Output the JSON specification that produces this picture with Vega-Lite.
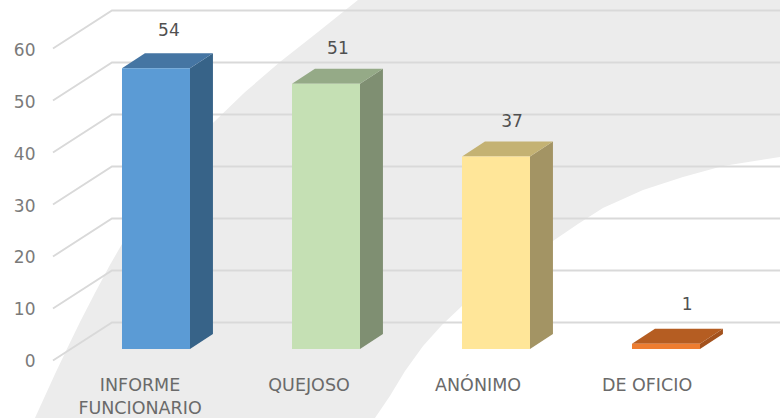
{"$schema":"https://vega.github.io/schema/vega-lite/v6.json","width":780,"height":418,"padding":0,"autosize":{"type":"none"},"background":"white","config":{"view":{"stroke":null}},
"datasets":{
"bars":[{"cat":"INFORME FUNCIONARIO","i":0,"left":-0.2,"right":0.2,"value":54,"zero":0,"labelX":0.076,"labelAt":61.5},{"cat":"QUEJOSO","i":1,"left":0.8,"right":1.2,"value":51,"zero":0,"labelX":1.07,"labelAt":58},{"cat":"ANÓNIMO","i":2,"left":1.8,"right":2.2,"value":37,"zero":0,"labelX":2.094,"labelAt":44},{"cat":"DE OFICIO","i":3,"left":2.8,"right":3.2,"value":1,"zero":0,"labelX":3.124,"labelAt":8.8}],
"faces":[
{"face":"INFORME side","x":0.2,"lo":0,"hi":54},{"face":"INFORME side","x":0.335,"lo":2.9,"hi":56.9},
{"face":"INFORME top","x":-0.2,"lo":54,"hi":54},{"face":"INFORME top","x":-0.065,"lo":54,"hi":56.9},{"face":"INFORME top","x":0.2,"lo":54,"hi":56.9},{"face":"INFORME top","x":0.335,"lo":56.9,"hi":56.9},
{"face":"QUEJOSO side","x":1.2,"lo":0,"hi":51},{"face":"QUEJOSO side","x":1.335,"lo":2.9,"hi":53.9},
{"face":"QUEJOSO top","x":0.8,"lo":51,"hi":51},{"face":"QUEJOSO top","x":0.935,"lo":51,"hi":53.9},{"face":"QUEJOSO top","x":1.2,"lo":51,"hi":53.9},{"face":"QUEJOSO top","x":1.335,"lo":53.9,"hi":53.9},
{"face":"ANONIMO side","x":2.2,"lo":0,"hi":37},{"face":"ANONIMO side","x":2.335,"lo":2.9,"hi":39.9},
{"face":"ANONIMO top","x":1.8,"lo":37,"hi":37},{"face":"ANONIMO top","x":1.935,"lo":37,"hi":39.9},{"face":"ANONIMO top","x":2.2,"lo":37,"hi":39.9},{"face":"ANONIMO top","x":2.335,"lo":39.9,"hi":39.9},
{"face":"OFICIO side","x":3.2,"lo":0,"hi":1},{"face":"OFICIO side","x":3.335,"lo":2.9,"hi":3.9},
{"face":"OFICIO top","x":2.8,"lo":1,"hi":1},{"face":"OFICIO top","x":2.935,"lo":1,"hi":3.9},{"face":"OFICIO top","x":3.2,"lo":1,"hi":3.9},{"face":"OFICIO top","x":3.335,"lo":3.9,"hi":3.9}],
"swoosh":[{"x":-0.712,"lo":-13.27,"hi":-13.27},{"x":-0.653,"lo":-13.27,"hi":-9.04},{"x":-0.594,"lo":-13.27,"hi":-4.81},{"x":-0.524,"lo":-13.27,"hi":0},{"x":-0.447,"lo":-13.27,"hi":5.19},{"x":-0.359,"lo":-13.27,"hi":10.77},{"x":-0.271,"lo":-13.27,"hi":16.15},{"x":-0.2,"lo":-13.27,"hi":20.19},{"x":-0.076,"lo":-13.27,"hi":26.15},{"x":0.053,"lo":-13.27,"hi":32.12},{"x":0.188,"lo":-13.27,"hi":37.69},{"x":0.335,"lo":-13.27,"hi":43.46},{"x":0.524,"lo":-13.27,"hi":49.42},{"x":0.729,"lo":-13.27,"hi":55.19},{"x":0.953,"lo":-13.27,"hi":60.96},{"x":1.188,"lo":-13.27,"hi":67.12},{"x":1.288,"lo":-13.27,"hi":67.12},{"x":1.376,"lo":-9.04,"hi":67.12},{"x":1.465,"lo":-4.23,"hi":67.12},{"x":1.571,"lo":0.58,"hi":67.12},{"x":1.682,"lo":4.62,"hi":67.12},{"x":1.8,"lo":8.27,"hi":67.12},{"x":1.935,"lo":11.73,"hi":67.12},{"x":2.082,"lo":15.0,"hi":67.12},{"x":2.2,"lo":17.88,"hi":67.12},{"x":2.335,"lo":20.77,"hi":67.12},{"x":2.482,"lo":24.04,"hi":67.12},{"x":2.629,"lo":27.12,"hi":67.12},{"x":2.865,"lo":30.58,"hi":67.12},{"x":3.1,"lo":33.08,"hi":67.12},{"x":3.335,"lo":35.19,"hi":67.12},{"x":3.671,"lo":36.92,"hi":67.12}],
"grid":[
{"t":0,"x":-0.606,"v":0},{"t":0,"x":-0.259,"v":7.3},{"t":0,"x":3.671,"v":7.3},
{"t":10,"x":-0.606,"v":10},{"t":10,"x":-0.259,"v":17.3},{"t":10,"x":3.671,"v":17.3},
{"t":20,"x":-0.606,"v":20},{"t":20,"x":-0.259,"v":27.3},{"t":20,"x":3.671,"v":27.3},
{"t":30,"x":-0.606,"v":30},{"t":30,"x":-0.259,"v":37.3},{"t":30,"x":3.671,"v":37.3},
{"t":40,"x":-0.606,"v":40},{"t":40,"x":-0.259,"v":47.3},{"t":40,"x":3.671,"v":47.3},
{"t":50,"x":-0.606,"v":50},{"t":50,"x":-0.259,"v":57.3},{"t":50,"x":3.671,"v":57.3},
{"t":60,"x":-0.606,"v":60},{"t":60,"x":-0.259,"v":67.3},{"t":60,"x":3.671,"v":67.3}]},
"resolve":{"scale":{"x":"independent","y":"independent","color":"independent"},"axis":{"x":"independent","y":"independent"}},
"layer":[
{"data":{"name":"swoosh"},"mark":{"type":"area","color":"#ececec"},"encoding":{"x":{"field":"x","type":"quantitative","axis":null,"scale":{"domain":[-0.9176,3.6706],"nice":false,"zero":false}},"y":{"field":"lo","type":"quantitative","axis":null,"stack":null,"scale":{"domain":[-13.27,67.12],"nice":false,"zero":false}},"y2":{"field":"hi"}}},
{"data":{"name":"grid"},"mark":{"type":"line","color":"#d9d9d9","strokeWidth":1.9},"encoding":{"detail":{"field":"t"},"x":{"field":"x","type":"quantitative","axis":null,"scale":{"domain":[-0.9176,3.6706],"nice":false,"zero":false}},"y":{"field":"v","type":"quantitative","stack":null,"scale":{"domain":[-11.06,69.33],"nice":false,"zero":false},"axis":{"values":[0,10,20,30,40,50,60],"grid":false,"domain":false,"ticks":false,"title":null,"zindex":1,"labelPadding":-35,"labelAlign":"right","labelOffset":1.5,"labelFont":"DejaVu Sans","labelFontSize":17,"labelColor":"#7a7a7a"}}}},
{"data":{"name":"faces"},"mark":{"type":"area"},"encoding":{"color":{"field":"face","type":"nominal","legend":null,"scale":{"domain":["INFORME side","INFORME top","QUEJOSO side","QUEJOSO top","ANONIMO side","ANONIMO top","OFICIO side","OFICIO top"],"range":["#376388","#4575a3","#7f8f72","#95aa87","#a39464","#c4b273","#a3521e","#b55d22"]}},"x":{"field":"x","type":"quantitative","axis":null,"scale":{"domain":[-0.9176,3.6706],"nice":false,"zero":false}},"y":{"field":"lo","type":"quantitative","axis":null,"stack":null,"scale":{"domain":[-13.27,67.12],"nice":false,"zero":false}},"y2":{"field":"hi"}}},
{"data":{"name":"bars"},"mark":{"type":"bar"},"encoding":{"color":{"field":"cat","type":"nominal","legend":null,"scale":{"domain":["INFORME FUNCIONARIO","QUEJOSO","ANÓNIMO","DE OFICIO"],"range":["#5b9bd5","#c5e0b4","#ffe699","#ed7d31"]}},"x":{"field":"left","type":"quantitative","axis":null,"scale":{"domain":[-0.9176,3.6706],"nice":false,"zero":false}},"x2":{"field":"right"},"y":{"field":"value","type":"quantitative","axis":null,"stack":null,"scale":{"domain":[-13.27,67.12],"nice":false,"zero":false}},"y2":{"field":"zero"}}},
{"data":{"name":"bars"},"mark":{"type":"text","font":"DejaVu Sans","fontSize":17,"color":"#505050","baseline":"middle","align":"center","dy":1.5},"encoding":{"text":{"field":"value","type":"quantitative"},"x":{"field":"labelX","type":"quantitative","axis":null,"scale":{"domain":[-0.9176,3.6706],"nice":false,"zero":false}},"y":{"field":"labelAt","type":"quantitative","axis":null,"scale":{"domain":[-13.27,67.12],"nice":false,"zero":false}}}},
{"data":{"name":"bars"},"mark":{"type":"tick","opacity":0},"encoding":{"x":{"field":"cat","type":"nominal","sort":null,"scale":{"domain":["INFORME FUNCIONARIO","QUEJOSO","ANÓNIMO","DE OFICIO"],"paddingInner":0,"paddingOuter":0.3077,"align":0.534},"axis":{"title":null,"domain":false,"ticks":false,"zindex":1,"labelAngle":0,"labelPadding":-42,"labelBaseline":"top","labelFont":"DejaVu Sans","labelFontSize":17.5,"labelColor":"#6a6a6a","labelLineHeight":23.5,"labelOverlap":false,"labelLimit":0,"labelExpr":"datum.value == 'INFORME FUNCIONARIO' ? ['INFORME','FUNCIONARIO'] : datum.label"}},"y":{"field":"value","type":"quantitative","axis":null,"scale":{"domain":[-13.27,67.12],"nice":false,"zero":false}}}}
]}
